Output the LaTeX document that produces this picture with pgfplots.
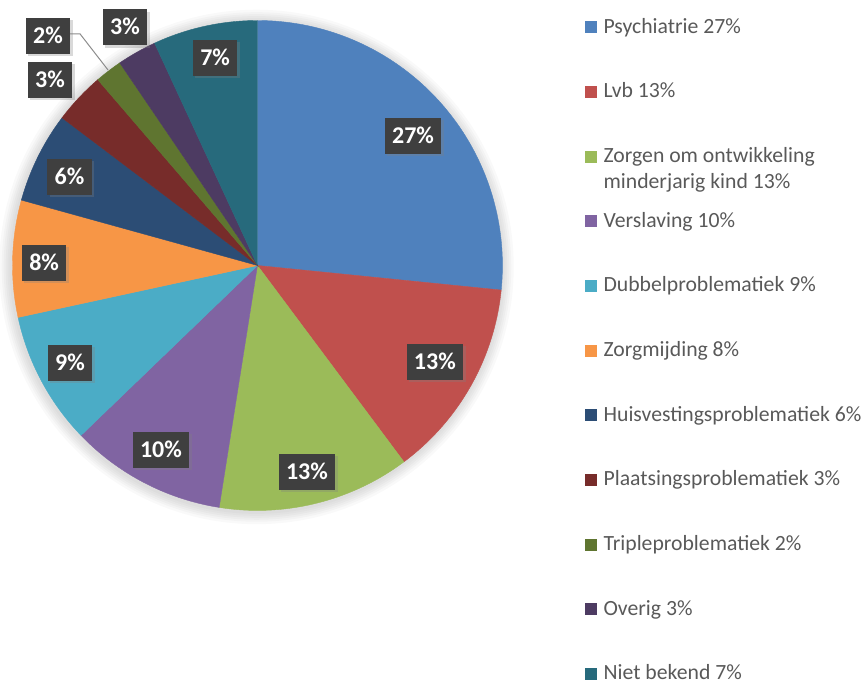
\documentclass[border=0pt]{standalone}
\usepackage{pgfplots}
\pgfplotsset{compat=1.18}
\usepackage{pgfplotstable}
\usepackage{fontspec}
\setmainfont{Carlito}
\usetikzlibrary{shadows}

\definecolor{cPsy}{HTML}{4F81BD}
\definecolor{cLvb}{HTML}{C0504D}
\definecolor{cZor}{HTML}{9BBB59}
\definecolor{cVer}{HTML}{8064A2}
\definecolor{cDub}{HTML}{4BACC6}
\definecolor{cZmi}{HTML}{F79646}
\definecolor{cHui}{HTML}{2C4D75}
\definecolor{cPla}{HTML}{772C2A}
\definecolor{cTri}{HTML}{5F7530}
\definecolor{cOve}{HTML}{4D3B62}
\definecolor{cNie}{HTML}{276A7C}
\definecolor{cTxt}{HTML}{595959}
\definecolor{cBox}{HTML}{3F3F3F}
\definecolor{cLead}{HTML}{8C8C8C}

% slice values (percent) and label positions (axis units, radius = 1)
\pgfplotstableread{
x      y      v
0.635  0.529  26.6
0.724  -0.394 13.2
0.202  -0.841 12.7
-0.394 -0.753 10.3
-0.765 -0.398 8.8
-0.871 0.010  7.7
-0.767 0.361  6.0
-0.847 0.757  3.4
-0.855 0.937  1.8
-0.541 0.973  2.6
-0.173 0.847  6.9
}\pietable

\pgfmathsetmacro\aO{90}
\pgfmathsetmacro\aA{\aO-3.6*26.6}
\pgfmathsetmacro\aB{\aA-3.6*13.2}
\pgfmathsetmacro\aC{\aB-3.6*12.7}
\pgfmathsetmacro\aD{\aC-3.6*10.3}
\pgfmathsetmacro\aE{\aD-3.6*8.8}
\pgfmathsetmacro\aF{\aE-3.6*7.7}
\pgfmathsetmacro\aG{\aF-3.6*6.0}
\pgfmathsetmacro\aH{\aG-3.6*3.4}
\pgfmathsetmacro\aI{\aH-3.6*1.8}
\pgfmathsetmacro\aJ{\aI-3.6*2.6}
\pgfmathsetmacro\aK{\aJ-3.6*6.9}

\begin{document}
\begin{tikzpicture}
\begin{axis}[
  x=122.5pt, y=122.5pt,
  xmin=-1.051, xmax=2.480, ymin=-1.708, ymax=1.0837,
  hide axis, clip=false,
  legend style={
    at={(axis cs:1.337,1.0143)}, anchor=north west,
    draw=none, fill=none, inner sep=0pt, outer sep=0pt,
    font=\fontsize{10.85}{13}\selectfont, text=cTxt,
    row sep=21.35pt,
    cells={anchor=base west},
    nodes={inner sep=0pt, text height=8pt, text depth=3pt},
    /tikz/every odd column/.append style={column sep=3.6pt},
  },
  legend image code/.code={\fill[#1] (0pt,0.3pt) rectangle (5.5pt,5.8pt);},
  pieslice/.style={draw=#1, line width=0.2pt, fill=#1, samples=90, variable=\t},
]
\coordinate (bl) at (rel axis cs:0,0);
\coordinate (tr) at (rel axis cs:1,1);

% soft shadow around the pie
\pgfplotsinvokeforeach{1.008,1.016,1.024,1.032,1.040,1.050}{
  \fill[black, opacity=0.022] (axis cs:-0.004,-0.006) circle[radius=#1*122.5pt];
}

\addplot[pieslice=cPsy, domain=\aA:\aO] ({cos(\t)},{sin(\t)}) -- (axis cs:0,0) -- cycle;
\addlegendentry{Psychiatrie 27\%}
\addplot[pieslice=cLvb, domain=\aB:\aA] ({cos(\t)},{sin(\t)}) -- (axis cs:0,0) -- cycle;
\addlegendentry{Lvb 13\%}
\addplot[pieslice=cZor, domain=\aC:\aB] ({cos(\t)},{sin(\t)}) -- (axis cs:0,0) -- cycle;
\addlegendentry{\begin{tabular}[t]{@{}l@{}}Zorgen om ontwikkeling\\minderjarig kind 13\%\end{tabular}}
\addplot[pieslice=cVer, domain=\aD:\aC] ({cos(\t)},{sin(\t)}) -- (axis cs:0,0) -- cycle;
\addlegendentry{Verslaving 10\%}
\addplot[pieslice=cDub, domain=\aE:\aD] ({cos(\t)},{sin(\t)}) -- (axis cs:0,0) -- cycle;
\addlegendentry{Dubbelproblematiek 9\%}
\addplot[pieslice=cZmi, domain=\aF:\aE] ({cos(\t)},{sin(\t)}) -- (axis cs:0,0) -- cycle;
\addlegendentry{Zorgmijding 8\%}
\addplot[pieslice=cHui, domain=\aG:\aF] ({cos(\t)},{sin(\t)}) -- (axis cs:0,0) -- cycle;
\addlegendentry{Huisvestingsproblematiek 6\%}
\addplot[pieslice=cPla, domain=\aH:\aG] ({cos(\t)},{sin(\t)}) -- (axis cs:0,0) -- cycle;
\addlegendentry{Plaatsingsproblematiek 3\%}
\addplot[pieslice=cTri, domain=\aI:\aH] ({cos(\t)},{sin(\t)}) -- (axis cs:0,0) -- cycle;
\addlegendentry{Tripleproblematiek 2\%}
\addplot[pieslice=cOve, domain=\aJ:\aI] ({cos(\t)},{sin(\t)}) -- (axis cs:0,0) -- cycle;
\addlegendentry{Overig 3\%}
\addplot[pieslice=cNie, domain=\aK:\aJ] ({cos(\t)},{sin(\t)}) -- (axis cs:0,0) -- cycle;
\addlegendentry{Niet bekend 7\%}

% leader line of the 2% label
\addplot[forget plot, cLead, line width=0.5pt] coordinates {(-0.765,0.945) (-0.724,0.945) (-0.610,0.798)};

% data labels
\addplot[forget plot, draw=none, mark=none,
  point meta=explicit,
  nodes near coords={\pgfmathprintnumber[fixed, precision=0, assume math mode=true]{\pgfplotspointmeta}\%},
  nodes near coords align={center},
  every node near coord/.append style={
    anchor=center, fill=cBox, text=white,
    font=\bfseries\fontsize{12}{14}\selectfont,
    inner xsep=3.7pt, inner ysep=5.15pt, text height=7.7pt, text depth=0pt,
    drop shadow={shadow xshift=1.2pt, shadow yshift=-1.2pt, opacity=0.3},
  },
] table[x=x, y=y, meta=v] {\pietable};
\end{axis}
\pgfresetboundingbox
\path[use as bounding box] (bl) rectangle (tr);
\end{tikzpicture}
\end{document}
